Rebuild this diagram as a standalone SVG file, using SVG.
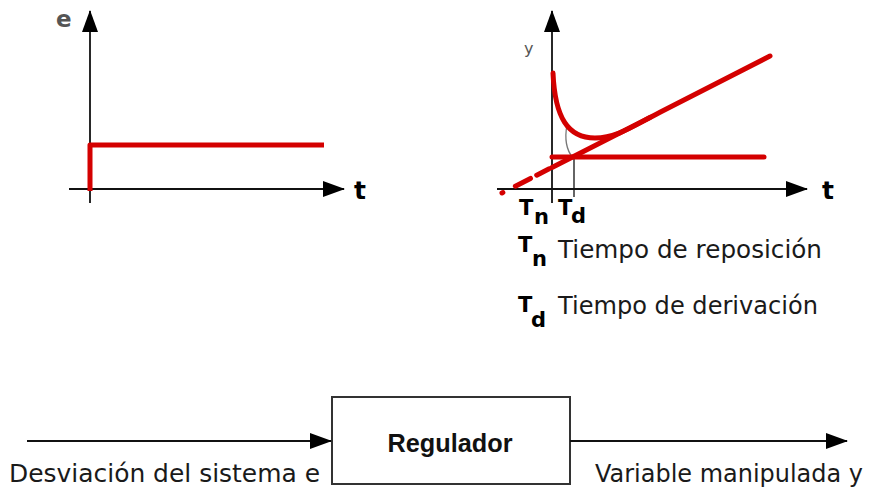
<svg xmlns="http://www.w3.org/2000/svg" width="870" height="493" viewBox="0 0 870 493">
<style>
.axis{stroke:#111;stroke-width:1.8;fill:none}
.red{stroke:#d40000;stroke-width:5;fill:none;stroke-linecap:round;stroke-linejoin:round}
.thin{stroke:#111;stroke-width:1.3;fill:none}
.txt{font-family:"DejaVu Sans",sans-serif;fill:#1a1a1a}
.bold{font-family:"DejaVu Sans",sans-serif;font-weight:bold;fill:#000}
.conn{stroke:#111;stroke-width:2;fill:none}
</style>
<defs>
<marker id="ah" markerWidth="22" markerHeight="16" refX="21" refY="8" orient="auto" markerUnits="userSpaceOnUse">
<path d="M0,0 L22,8 L0,16 Z" fill="#000"/>
</marker>
<marker id="ah2" markerWidth="22" markerHeight="16" refX="21" refY="8" orient="auto" markerUnits="userSpaceOnUse">
<path d="M0,0 L22,8 L0,16 Z" fill="#000"/>
</marker>
</defs>
<rect width="870" height="493" fill="#fff"/>

<g id="graph-e">
<line class="axis" x1="90" y1="203" x2="90" y2="11" marker-end="url(#ah)"/>
<line class="axis" x1="69" y1="189" x2="344" y2="189" marker-end="url(#ah)"/>
<text class="txt" x="56" y="27" font-size="23" font-weight="bold" style="fill:#555">e</text>
<text class="bold" x="354" y="199" font-size="25">t</text>
<path class="red" d="M90,191 L90,145 L324,145" style="stroke-linecap:butt"/>
</g>

<g id="graph-y">
<line class="axis" x1="552" y1="203" x2="552" y2="11" marker-end="url(#ah)"/>
<line class="axis" x1="497" y1="189" x2="807" y2="189" marker-end="url(#ah)"/>
<text class="txt" x="524" y="54" font-size="16" style="fill:#555">y</text>
<text class="bold" x="822" y="199" font-size="25">t</text>
<line class="thin" x1="574" y1="157" x2="574" y2="197"/>
<path d="M567,125 Q563,146 573,158" stroke="#777" stroke-width="1.3" fill="none"/>
<line class="red" x1="552" y1="157" x2="764" y2="157"/>
<path class="red" d="M502,193 L552,167.4" stroke-dasharray="1,14,17,7,14,50" style="stroke-linecap:round"/>
<path class="red" d="M552,167.4 L650,117.4"/>
<path class="red" d="M553,73 C555,118 568,138 595,138 C617,138 633,126 660,112.3 L770,56"/>
<text class="bold" x="519" y="215" font-size="21">T</text>
<text class="bold" x="534" y="224" font-size="21">n</text>
<text class="bold" x="558" y="215" font-size="21">T</text>
<text class="bold" x="571" y="223" font-size="21">d</text>
</g>

<g id="legend">
<text class="bold" x="518" y="252" font-size="21">T</text>
<text class="bold" x="532" y="266" font-size="21">n</text>
<text class="txt" x="558" y="258" font-size="25" textLength="264" lengthAdjust="spacingAndGlyphs">Tiempo de reposición</text>
<text class="bold" x="518" y="312" font-size="21">T</text>
<text class="bold" x="531" y="327" font-size="21">d</text>
<text class="txt" x="558" y="314" font-size="25" textLength="260" lengthAdjust="spacingAndGlyphs">Tiempo de derivación</text>
</g>

<g id="regulador">
<rect x="332" y="397" width="238" height="87" fill="#fff" stroke="#333" stroke-width="2"/>
<text x="450" y="452" font-family="Liberation Sans, Arial, sans-serif" font-weight="bold" font-size="25" text-anchor="middle" textLength="125" lengthAdjust="spacingAndGlyphs" fill="#111">Regulador</text>
</g>

<g id="connectors">
<line class="conn" x1="27" y1="441" x2="331" y2="441" marker-end="url(#ah2)"/>
<line class="conn" x1="570" y1="441" x2="847" y2="441" marker-end="url(#ah2)"/>
</g>

<g id="labels">
<text class="txt" x="9" y="482" font-size="24" textLength="311" lengthAdjust="spacingAndGlyphs">Desviación del sistema e</text>
<text class="txt" x="595" y="482" font-size="24" textLength="268" lengthAdjust="spacingAndGlyphs">Variable manipulada y</text>
</g>
</svg>
